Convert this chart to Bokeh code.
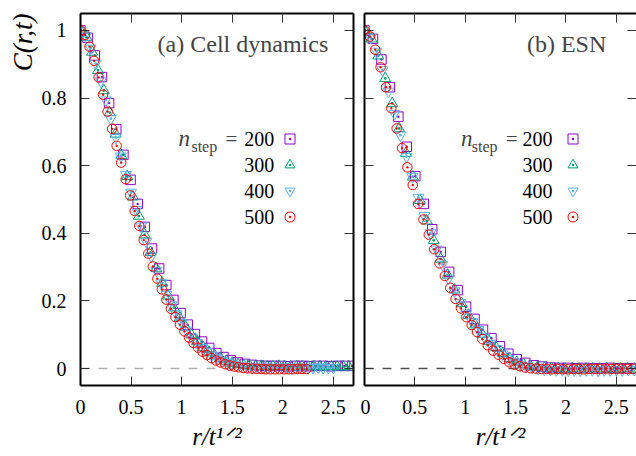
import numpy as np
from bokeh.plotting import figure
from bokeh.models import (Range1d, FixedTicker, LinearAxis, Span, Label, Legend,
                          LegendItem, ColumnDataSource, Title)
from bokeh.layouts import row
from bokeh.embed import file_html
from bokeh.resources import INLINE

# ---------------- data ----------------
n_steps = ["200", "300", "400", "500"]
x_ticks = [0, 0.5, 1, 1.5, 2, 2.5]
x_tick_labels = ["0", "0.5", "1", "1.5", "2", "2.5"]
y_ticks = [0, 0.2, 0.4, 0.6, 0.8, 1]
y_tick_labels = ["0", "0.2", "0.4", "0.6", "0.8", "1"]

# spacing in r/t^(1/2) between successive lattice distances r = 0, 1, 2, ...
cell_dx = [0.0707, 0.0577, 0.0500, 0.0447]
esn_dx = [0.0840, 0.0687, 0.0595, 0.0532]

cell_c200 = [1.000, 0.978, 0.926, 0.862, 0.785, 0.708, 0.632, 0.558, 0.487, 0.419,
             0.355, 0.296, 0.247, 0.203, 0.164, 0.130, 0.102, 0.080, 0.061, 0.046,
             0.034, 0.025, 0.018, 0.014, 0.011, 0.009, 0.008, 0.008, 0.008, 0.007,
             0.008, 0.008, 0.007, 0.008, 0.008, 0.007, 0.008, 0.008, 0.008]
cell_c300 = [1.000, 0.980, 0.936, 0.882, 0.822, 0.757, 0.694, 0.630, 0.568, 0.508,
             0.451, 0.396, 0.344, 0.296, 0.253, 0.215, 0.180, 0.150, 0.123, 0.100,
             0.080, 0.063, 0.049, 0.038, 0.029, 0.022, 0.016, 0.012, 0.009, 0.008,
             0.007, 0.007, 0.006, 0.006, 0.007, 0.006, 0.005, 0.006, 0.006, 0.005,
             0.006, 0.006, 0.005, 0.006, 0.005, 0.006, 0.005]
cell_c400 = [1.000, 0.983, 0.947, 0.902, 0.850, 0.794, 0.739, 0.683, 0.628, 0.574,
             0.521, 0.470, 0.421, 0.375, 0.332, 0.290, 0.253, 0.219, 0.188, 0.161,
             0.136, 0.113, 0.093, 0.077, 0.062, 0.050, 0.039, 0.031, 0.023, 0.017,
             0.013, 0.009, 0.007, 0.005, 0.004, 0.004, 0.003, 0.004, 0.003, 0.003,
             0.004, 0.003, 0.003, 0.004, 0.003, 0.003, 0.003, 0.004, 0.003, 0.003,
             0.003]
cell_c500 = [1.000, 0.987, 0.952, 0.910, 0.861, 0.810, 0.760, 0.709, 0.659, 0.609,
             0.560, 0.512, 0.466, 0.422, 0.380, 0.340, 0.302, 0.266, 0.234, 0.204,
             0.177, 0.152, 0.130, 0.110, 0.092, 0.076, 0.062, 0.050, 0.040, 0.031,
             0.024, 0.018, 0.013, 0.009, 0.006, 0.004, 0.002, 0.001, 0.000, -0.001,
             -0.001, -0.002, -0.002, -0.002, -0.002, -0.002, -0.002, -0.002, -0.001,
             -0.001, -0.001]

esn_c200 = [1.000, 0.975, 0.914, 0.832, 0.745, 0.656, 0.569, 0.487, 0.412, 0.345,
            0.286, 0.232, 0.183, 0.147, 0.115, 0.090, 0.066, 0.044, 0.028, 0.017,
            0.010, 0.006, 0.003, 0.002, 0.002, 0.001, 0.002, 0.001, 0.001, 0.002,
            0.001, 0.001, 0.001]
esn_c300 = [1.000, 0.975, 0.925, 0.858, 0.784, 0.710, 0.637, 0.567, 0.498, 0.437,
            0.379, 0.324, 0.277, 0.233, 0.193, 0.158, 0.130, 0.102, 0.081, 0.062,
            0.045, 0.030, 0.019, 0.012, 0.007, 0.004, 0.002, 0.001, 0.000, -0.001,
            0.000, -0.001, -0.001, 0.000, -0.001, 0.000, -0.001, -0.001, 0.000, -0.001]
esn_c400 = [1.000, 0.979, 0.938, 0.883, 0.820, 0.754, 0.690, 0.627, 0.567, 0.506,
            0.452, 0.401, 0.353, 0.308, 0.267, 0.229, 0.195, 0.164, 0.138, 0.115,
            0.093, 0.074, 0.058, 0.043, 0.029, 0.019, 0.012, 0.007, 0.003, 0.000,
            -0.002, -0.003, -0.004, -0.004, -0.005, -0.004, -0.005, -0.004, -0.004,
            -0.005, -0.004, -0.004, -0.003, -0.004, -0.003, -0.003]
esn_c500 = [1.000, 0.982, 0.943, 0.891, 0.832, 0.770, 0.710, 0.652, 0.595, 0.543,
            0.487, 0.441, 0.396, 0.353, 0.311, 0.274, 0.239, 0.206, 0.178, 0.152,
            0.129, 0.108, 0.087, 0.069, 0.053, 0.041, 0.029, 0.019, 0.012, 0.007,
            0.003, 0.001, 0.000, -0.001, -0.001, -0.002, -0.001, -0.002, -0.002,
            -0.001, -0.001, -0.002, -0.001, -0.001, -0.001, 0.000, -0.001, -0.001,
            0.000, -0.001, -0.001]

# ---------------- style ----------------
FONT = "Liberation Serif"
COLORS = ["#9400d3", "#009e73", "#56b4e9", "#ff0000"]
MARKERS = ["square_dot", "triangle_dot", "inverted_triangle", "circle_dot"]
SIZES = [9.5, 11, 11, 9.5]
HEIGHT = 456
# legend row centres (data units of C) matching the legend rows
ROW_Y = [0.679, 0.602, 0.525, 0.448]


def style_axis(ax, ticks, labels, show_labels, line=True):
    ax.ticker = FixedTicker(ticks=ticks)
    ax.major_label_overrides = {t: l for t, l in zip(ticks, labels)}
    ax.minor_tick_line_color = None
    ax.major_tick_in = 9
    ax.major_tick_out = 0
    ax.major_tick_line_color = "#333333"
    ax.major_tick_line_width = 1
    ax.axis_line_color = "black" if line else None
    ax.axis_line_width = 2
    ax.major_label_text_font = FONT
    ax.major_label_text_font_size = "20px"
    if show_labels:
        ax.major_label_text_color = "black"
        ax.major_label_standoff = 14
    else:
        ax.major_label_text_color = None
        ax.major_label_standoff = 0


def make_panel(series, dxs, title, title_x, num_x, nstep_x, left,
               width, mbl, mbr, zero_color, legend_x):
    p = figure(width=width, height=HEIGHT, x_range=Range1d(0, 2.7),
               y_range=Range1d(-0.05, 1.05), output_backend="svg",
               toolbar_location=None, x_axis_location=None, y_axis_location=None,
               min_border_left=mbl, min_border_right=mbr, min_border_top=13,
               min_border_bottom=71)
    p.outline_line_color = None
    p.grid.grid_line_color = None
    p.background_fill_color = "white"
    p.border_fill_color = "white"

    bottom = LinearAxis()
    style_axis(bottom, x_ticks, x_tick_labels, True)
    bottom.axis_label = "r/t\u00b9\u141f\u00b2"
    bottom.axis_label_text_font = FONT
    bottom.axis_label_text_font_style = "italic"
    bottom.axis_label_text_font_size = "25px"
    bottom.axis_label_text_color = "black"
    bottom.axis_label_standoff = 6
    p.add_layout(bottom, "below")
    top = LinearAxis()
    style_axis(top, x_ticks, x_tick_labels, False)
    p.add_layout(top, "above")
    lax = LinearAxis()
    style_axis(lax, y_ticks, y_tick_labels, left)
    p.add_layout(lax, "left")
    rax = LinearAxis()
    style_axis(rax, y_ticks, y_tick_labels, False, line=left)
    p.add_layout(rax, "right")
    if left:
        p.add_layout(Title(text="C(r,t)", align="right", text_font=FONT,
                           text_font_style="italic", text_font_size="27px",
                           text_color="black", standoff=2), "left")

    p.add_layout(Span(location=0, dimension="width", line_color=zero_color,
                      line_dash="9 9", line_width=1.5, level="underlay"))

    items = []
    for i, (yv, dx) in enumerate(zip(series, dxs)):
        src = ColumnDataSource(dict(x=np.arange(len(yv)) * dx, y=yv))
        r = p.scatter("x", "y", source=src, marker=MARKERS[i], size=SIZES[i],
                      line_color=COLORS[i], fill_color=None, line_width=1)
        rs = [r]
        if MARKERS[i] == "inverted_triangle":
            rd = p.scatter("x", "y", source=src, marker="dot", size=SIZES[i],
                           line_color=COLORS[i], fill_color=COLORS[i])
            rs.append(rd)
        items.append(LegendItem(label="", renderers=rs))

    legend = Legend(items=items, location=(legend_x, 156), orientation="vertical",
                    glyph_width=25, glyph_height=25, label_width=0,
                    label_height=25, label_standoff=0, spacing=1, padding=0,
                    margin=0, border_line_color=None, background_fill_alpha=0)
    p.add_layout(legend, "center")

    for i, n in enumerate(n_steps):
        p.add_layout(Label(x=num_x, y=ROW_Y[i], text=n, text_align="right",
                           text_baseline="middle", text_font=FONT,
                           text_font_size="20px", text_color="black"))
    # n_step =
    p.add_layout(Label(x=nstep_x[0], y=ROW_Y[0], text="n", text_align="right",
                       text_baseline="middle", text_font=FONT,
                       text_font_style="italic", text_font_size="23px"))
    p.add_layout(Label(x=nstep_x[1], y=ROW_Y[0] - 0.021, text="step",
                       text_align="right", text_baseline="middle",
                       text_font=FONT, text_font_size="16px"))
    p.add_layout(Label(x=nstep_x[2], y=ROW_Y[0], text="=", text_align="right",
                       text_baseline="middle", text_font=FONT,
                       text_font_size="21px"))

    # panel title
    p.add_layout(Label(x=title_x, y=0.961, text=title, text_align="right",
                       text_baseline="middle", text_font=FONT,
                       text_font_size="24px"))
    return p


p1 = make_panel([cell_c200, cell_c300, cell_c400, cell_c500], cell_dx,
                "(a) Cell dynamics", 2.45, 1.916, (1.084, 1.352, 1.55),
                True, 360, 80, 7, "#b0b0b0", 197)
p2 = make_panel([esn_c200, esn_c300, esn_c400, esn_c500], esn_dx,
                "(b) ESN", 2.40, 1.866, (1.072, 1.32, 1.519),
                False, 276, 4, 0, "#505050", 196)

layout = row(p1, p2)
open("out.html", "w").write(file_html(layout, INLINE))
